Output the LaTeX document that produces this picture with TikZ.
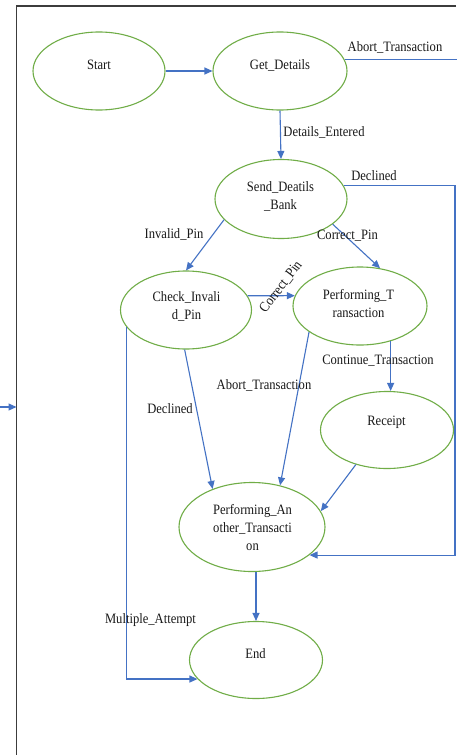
\documentclass[tikz,border=0pt]{standalone}
\usepackage{fontspec}
\setmainfont{Liberation Serif}[FakeStretch=0.88]
\usetikzlibrary{shapes.geometric,arrows.meta}
\definecolor{eg}{RGB}{112,173,71}
\definecolor{ab}{RGB}{68,114,196}
\definecolor{tx}{RGB}{25,25,25}
\definecolor{fr}{RGB}{60,60,60}
\begin{document}
\begin{tikzpicture}[x=1pt,y=-1pt,
 st/.style={draw=eg,line width=1.1pt,ellipse,inner sep=0pt},
 lbl/.style={text=tx,font=\fontsize{14.3}{18}\selectfont,inner sep=0pt,align=center},
 ar/.style={draw=ab,line width=1.1pt,-{Triangle[length=8pt,width=7pt]}},
 ln/.style={draw=ab,line width=1.1pt}]
\fill[white] (0,0) rectangle (456,755);
\useasboundingbox (0,0) rectangle (456,755);
% frame
\draw[fr,line width=1.4pt] (456,6) -- (16.5,6) -- (16.5,756);
% states
\node[st,minimum width=132pt,minimum height=78pt] (start) at (99,71) {};
\node[st,minimum width=134pt,minimum height=78pt] (get) at (280,71) {};
\node[st,minimum width=132pt,minimum height=79pt] (send) at (281,199) {};
\node[st,minimum width=131pt,minimum height=78pt] (check) at (186,310) {};
\node[st,minimum width=134pt,minimum height=78pt] (perf) at (360,306) {};
\node[st,minimum width=133pt,minimum height=77pt] (receipt) at (387,430) {};
\node[st,minimum width=146pt,minimum height=89pt] (another) at (252,527) {};
\node[st,minimum width=133pt,minimum height=77pt] (end) at (256,660) {};
% state texts
\node[lbl] (startT) at (99,65) {Start};
\node[lbl] (getT) at (280,65) {Get\_Details};
\node[lbl] (sendT) at (280.5,196) {Send\_Deatils\\\_Bank};
\node[lbl] (checkT) at (186.5,306) {Check\_Invali\\d\_Pin};
\node[lbl] (perfT) at (358.5,303.5) {Performing\_T\\ransaction};
\node[lbl] (receiptT) at (386.5,422) {Receipt};
\node[lbl] (anotherT) at (252.5,528) {Performing\_An\\other\_Transacti\\on};
\node[lbl] (endT) at (255.5,654) {End};
% helper coordinates
\coordinate (rightx) at (455,0);
\coordinate (abortEnd) at (457,0);
\coordinate (leftA) at (0,407);
\coordinate (leftB) at (16.5,407);
% connectors
\draw[ar] (start.east) -- (get.west);
\draw[ln] (get.10) -- (get.10 -| abortEnd);
\draw[ar] (get.south) -- (send.north);
\draw[ar] (send.12) -- (send.12 -| rightx) -- (another.-26 -| rightx) -- (another.-26);
\draw[ar] (send.200) -- (check.north);
\draw[ar] (send.-26) -- (perf.62);
\draw[ar] (check.13) -- (perf.171);
\draw[ar] (perf.-49) -- (perf.-49 |- receipt.north);
\draw[ar] (check.268) -- (another.136);
\draw[ar] (perf.207) -- (another.56);
\draw[ar] (receipt.228) -- (another.13);
\draw[ar] (end.north |- another.south) -- (end.north);
\draw[ar] (check.196) |- (end.198);
\draw[ar] (leftA) -- (leftB);
% labels
\node[lbl] (l1) at (395,47) {Abort\_Transaction};
\node[lbl] (l2) at (324,132) {Details\_Entered};
\node[lbl] (l3) at (374,176) {Declined};
\node[lbl] (l4) at (174,234) {Invalid\_Pin};
\node[lbl] (l5) at (347.5,236) {Correct\_Pin};
\node[lbl,rotate=53] (l6) at (281,287) {Correct\_Pin};
\node[lbl] (l7) at (378,361) {Continue\_Transaction};
\node[lbl] (l8) at (264,385) {Abort\_Transaction};
\node[lbl] (l9) at (170,409) {Declined};
\node[lbl] (l10) at (150.5,620) {Multiple\_Attempt};
\end{tikzpicture}
\end{document}
